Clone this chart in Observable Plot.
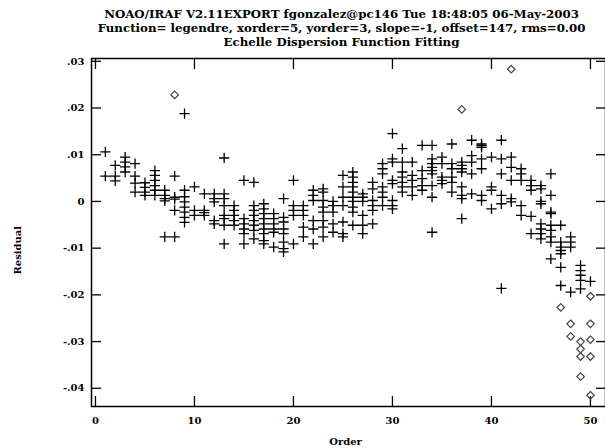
<!DOCTYPE html>
<html>
<head>
<meta charset="utf-8">
<script src="https://cdn.jsdelivr.net/npm/d3@7"></script>
<script src="https://cdn.jsdelivr.net/npm/@observablehq/plot@0.6"></script>
<style>
  html, body { margin: 0; padding: 0; background: #fff; }
</style>
</head>
<body>
<div id="chart"></div>
<script>
const titleLines = [
  "NOAO/IRAF V2.11EXPORT fgonzalez@pc146 Tue 18:48:05 06-May-2003",
  "Function= legendre, xorder=5, yorder=3, slope=-1, offset=147, rms=0.00",
  "Echelle Dispersion Function Fitting"
];
const xLabel = "Order";
const yLabel = "Residual";
const xTicks = [0, 10, 20, 30, 40, 50];
const xTickLabels = ["0", "10", "20", "30", "40", "50"];
const yTicks = [0.03, 0.02, 0.01, 0, -0.01, -0.02, -0.03, -0.04];
const yTickLabels = [".03", ".02", ".01", "0", "-.01", "-.02", "-.03", "-.04"];

const orders = [1,2,3,4,5,6,7,8,9,10,11,12,13,14,15,16,17,18,19,20,21,22,23,24,25,
                26,27,28,29,30,31,32,33,34,35,36,37,38,39,40,41,42,43,44,45,46,47,48,49,50];
const residuals = [
  [0.0106, 0.0054],
  [0.0077, 0.0054, 0.0044],
  [0.0095, 0.0084, 0.0074, 0.0063],
  [0.0081, 0.0054, 0.0039, 0.0020],
  [0.0040, 0.0030, 0.0020, 0.0013],
  [0.0066, 0.0056, 0.0045, 0.0034, 0.0024, 0.0013],
  [0.0024, 0.0013, 0.0006, 0.0001, -0.0076],
  [0.0054, 0.0009, 0.0005, -0.0019, -0.0076],
  [0.0188, 0.0024, 0.0010, -0.0001, -0.0012, -0.0023, -0.0034, -0.0045],
  [0.0031, -0.0019, -0.0030],
  [0.0016, -0.0019, -0.0024, -0.0030],
  [0.0016, 0.0006, -0.0001, -0.0041, -0.0048],
  [0.0093, 0.0016, 0.0006, -0.0009, -0.0030, -0.0037, -0.0051, -0.0091],
  [-0.0009, -0.0019, -0.0030, -0.0041, -0.0051],
  [0.0045, -0.0037, -0.0048, -0.0059, -0.0069, -0.0091],
  [0.0041, -0.0009, -0.0019, -0.0030, -0.0041, -0.0051, -0.0062, -0.0080],
  [-0.0005, -0.0016, -0.0026, -0.0037, -0.0048, -0.0059, -0.0069, -0.0084, -0.0091],
  [-0.0026, -0.0037, -0.0048, -0.0059, -0.0066, -0.0098],
  [0.0006, -0.0034, -0.0044, -0.0059, -0.0069, -0.0087, -0.0101, -0.0108],
  [0.0045, -0.0009, -0.0019, -0.0030, -0.0091],
  [-0.0009, -0.0019, -0.0030, -0.0055, -0.0076],
  [0.0024, 0.0013, 0.0002, -0.0041, -0.0059, -0.0091],
  [0.0027, 0.0020, 0.0002, -0.0012, -0.0023, -0.0041, -0.0055, -0.0076],
  [0.0000, -0.0009, -0.0023, -0.0048, -0.0066],
  [0.0056, 0.0031, 0.0009, -0.0009, -0.0044, -0.0069, -0.0076],
  [0.0063, 0.0052, 0.0041, 0.0031, 0.0020, 0.0009, 0.0000, -0.0012, -0.0023, -0.0051],
  [0.0016, 0.0009, 0.0000, -0.0030, -0.0051, -0.0069],
  [0.0041, 0.0027, 0.0002, -0.0009, -0.0019, -0.0048],
  [0.0081, 0.0070, 0.0059, 0.0031, 0.0020, 0.0009, -0.0009],
  [0.0145, 0.0091, 0.0084, 0.0045, 0.0038, 0.0002, -0.0009, -0.0016],
  [0.0113, 0.0084, 0.0063, 0.0052, 0.0041, 0.0031, 0.0020],
  [0.0084, 0.0056, 0.0045, 0.0031, 0.0013],
  [0.0120, 0.0066, 0.0049, 0.0034, 0.0024],
  [0.0120, 0.0091, 0.0081, 0.0073, 0.0066, 0.0059, 0.0034, 0.0009, -0.0066],
  [0.0095, 0.0081, 0.0052, 0.0045, 0.0038],
  [0.0123, 0.0081, 0.0070, 0.0052, 0.0041, 0.0020],
  [0.0084, 0.0077, 0.0070, 0.0063, 0.0031, 0.0013, 0.0006, -0.0037],
  [0.0131, 0.0098, 0.0084, 0.0059, 0.0016],
  [0.0123, 0.0120, 0.0116, 0.0091, 0.0070, 0.0013, 0.0002],
  [0.0095, 0.0031, 0.0024, -0.0016],
  [0.0131, 0.0091, 0.0059, 0.0013, -0.0005, -0.0186],
  [0.0095, 0.0073, 0.0045, 0.0006, -0.0001],
  [0.0070, 0.0059, 0.0045, -0.0009, -0.0030],
  [0.0045, 0.0034, 0.0024, -0.0032, -0.0069],
  [0.0034, 0.0027, 0.0000, -0.0005, -0.0048, -0.0059, -0.0069, -0.0080],
  [0.0059, 0.0013, -0.0023, -0.0026, -0.0051, -0.0062, -0.0076, -0.0087, -0.0123],
  [-0.0051, -0.0087, -0.0098, -0.0105, -0.0112, -0.0141, -0.0180],
  [-0.0076, -0.0087, -0.0098, -0.0194],
  [-0.0137, -0.0148, -0.0158, -0.0169, -0.0187],
  [-0.0171]
];
const deletedOrders = [8, 37, 42, 47, 48, 48, 49, 49, 49, 49, 50, 50, 50, 50, 50];
const deletedResiduals = [0.0228, 0.0197, 0.0283, -0.0227, -0.0262, -0.0289, -0.0300, -0.0316,
                          -0.0332, -0.0375, -0.0203, -0.0262, -0.0296, -0.0332, -0.0415];

const points = orders.flatMap((o, i) => residuals[i].map(r => ({order: o, residual: r})));
const deleted = deletedOrders.map((o, i) => ({order: o, residual: deletedResiduals[i]}));
const yLabelMap = new Map(yTicks.map((v, i) => [v, yTickLabels[i]]));
const xLabelMap = new Map(xTicks.map((v, i) => [v, xTickLabels[i]]));

const font = "DejaVu Serif";
const titleOffsets = [-44, -30, -16];

const chart = Plot.plot({
  width: 605,
  height: 448,
  marginLeft: 91,
  marginRight: 0,
  marginTop: 58,
  marginBottom: 42,
  style: {fontFamily: font, fontWeight: "bold", fontSize: "10px", background: "#fff", color: "#000"},
  x: {domain: [-0.4, 51.52], axis: null},
  y: {domain: [-0.0439, 0.0306], axis: null},
  marks: [
    Plot.frame({stroke: "#000", strokeWidth: 1.5}),
    Plot.axisX(xTicks, {anchor: "bottom", tickSize: -10, fill: "none", label: null, stroke: "#000", strokeWidth: 1.3}),
    Plot.axisX(xTicks, {anchor: "top", tickSize: -10, fill: "none", label: null, stroke: "#000", strokeWidth: 1.3}),
    Plot.axisY(yTicks, {anchor: "left", tickSize: -10, fill: "none", label: null, stroke: "#000", strokeWidth: 1.3}),
    Plot.axisY(yTicks, {anchor: "right", tickSize: -10, fill: "none", label: null, stroke: "#000", strokeWidth: 1.3}),
    Plot.axisX(xTicks, {anchor: "bottom", tickSize: 0, tickPadding: 10, label: null, tickFormat: d => xLabelMap.get(d), fill: "#000", fontSize: 10}),
    Plot.axisY(yTicks, {anchor: "left", tickSize: 0, tickPadding: 7, label: null, tickFormat: d => yLabelMap.get(d), fill: "#000", fontSize: 10}),
    Plot.dot(points, {x: "order", y: "residual", symbol: "plus", r: 3.4, stroke: "#000", strokeWidth: 1.3}),
    Plot.dot(deleted, {x: "order", y: "residual", symbol: "diamond2", r: 3.4, stroke: "#444", strokeWidth: 1.2}),
    ...titleLines.map((t, i) => Plot.text([t], {text: d => d, frameAnchor: "top", dx: -7, dy: titleOffsets[i], lineAnchor: "middle", fontSize: 11.8, fill: "#000"})),
    Plot.text([xLabel], {text: d => d, frameAnchor: "bottom", dx: -3, dy: 35, lineAnchor: "middle", fontSize: 10, fill: "#000"}),
    Plot.text([yLabel], {text: d => d, frameAnchor: "left", dx: -74, dy: 42, rotate: -90, lineAnchor: "middle", fontSize: 10, fill: "#000"})
  ]
});
document.getElementById("chart").appendChild(chart);
</script>
</body>
</html>
